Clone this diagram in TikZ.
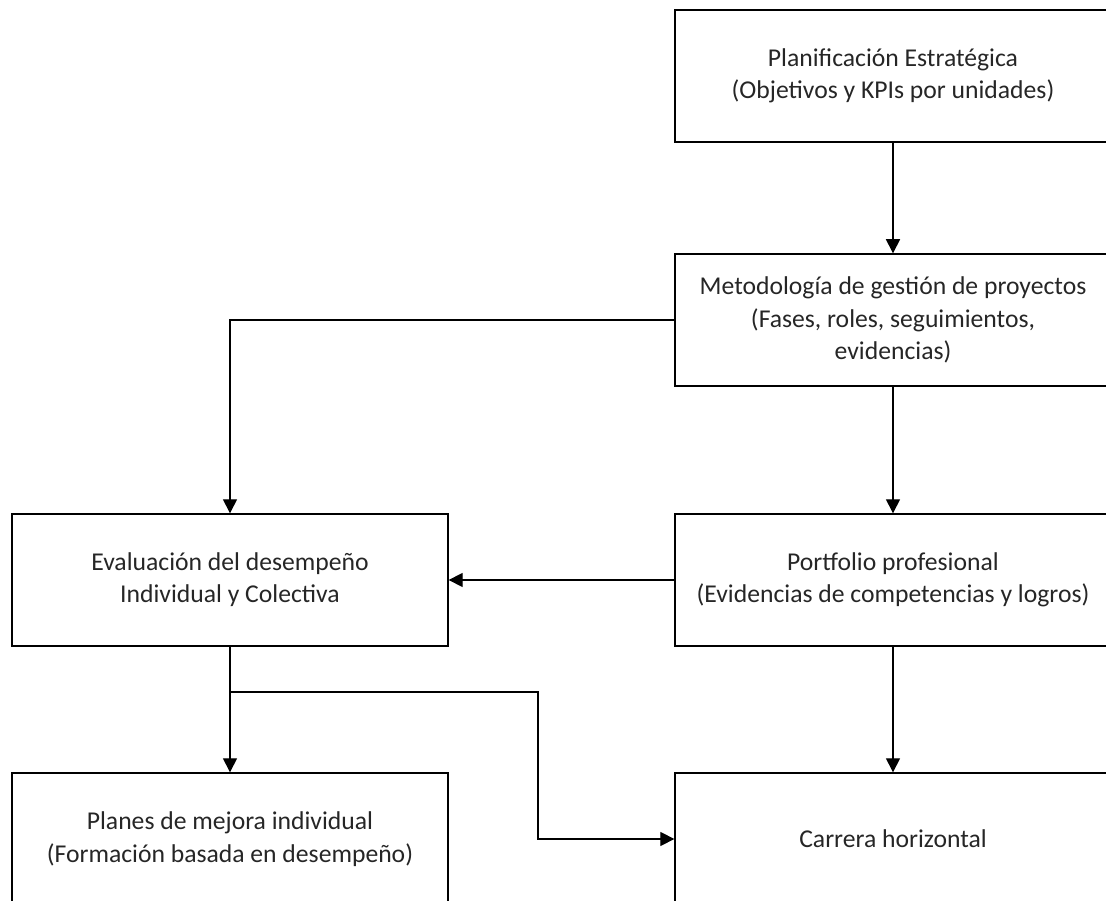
\documentclass[tikz,border=0pt]{standalone}
\usepackage{fontspec}
\setmainfont{Carlito}
\usetikzlibrary{arrows.meta}

\tikzset{
    box/.style = {
        draw,
        rectangle,
        line width=0.8pt,
        inner xsep=2pt,
        minimum width=8.72cm,
        minimum height=2.64cm,
        align=center,
        font=\fontsize{14.6}{18.4}\selectfont,
        text=black!85
    },
    flow/.style = {
        line width=0.8pt,
        -{Triangle[length=8pt,width=8pt]}
    }
}

\begin{document}
\begin{tikzpicture}[x=0.02cm, y=-0.02cm]
    \clip (0,0) rectangle (1106,901);

    % Draw all boxes
    \node[box] (plan)    at (893,76)  {Planificación Estratégica\\(Objetivos y KPIs por unidades)};
    \node[box] (metod)   at (893,320) {Metodología de gestión de proyectos\\(Fases, roles, seguimientos,\\evidencias)};
    \node[box] (eval)    at (230,580) {Evaluación del desempeño\\Individual y Colectiva};
    \node[box] (port)    at (893,580) {Portfolio profesional\\(Evidencias de competencias y logros)};
    \node[box] (planes)  at (230,839) {Planes de mejora individual\\(Formación basada en desempeño)};
    \node[box] (carrera) at (893,839) {Carrera horizontal};

    % Draw arrows
    \draw[flow] (plan) -- (metod);
    \draw[flow] (metod.west) -| (eval.north);
    \draw[flow] (metod) -- (port);
    \draw[flow] (port.west) -- (eval.east);
    \draw[flow] (eval) -- (planes);
    \draw[flow] (port) -- (carrera);

    \coordinate (split) at (230,692);
    \coordinate (bend)  at (538,692);
    \draw[flow] (split) -- (bend) |- (carrera.west);
\end{tikzpicture}
\end{document}
